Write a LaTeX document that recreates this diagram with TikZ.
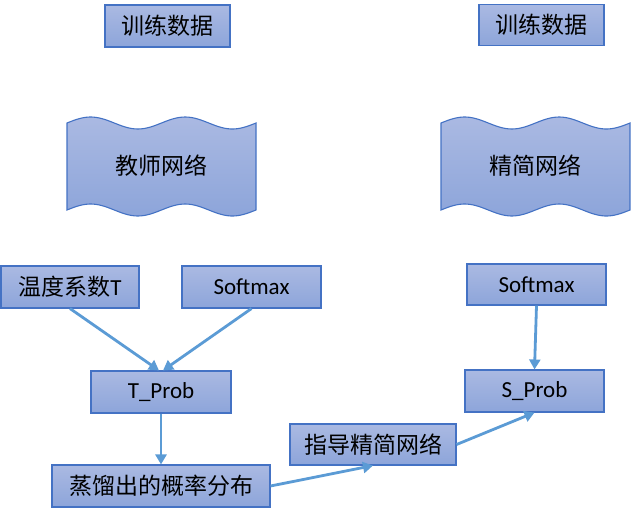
\documentclass[tikz,border=0pt]{standalone}
\usepackage{fontspec}
\setmainfont{Carlito}
\newfontfamily\cjk{Noto Sans CJK SC}
\usepackage{xcolor}
\usepackage{tikz}
\usetikzlibrary{positioning,arrows.meta}

\definecolor{boxline}{HTML}{4472C4}
\definecolor{boxtop}{HTML}{AAB9E2}
\definecolor{boxbot}{HTML}{8DA5DA}
\definecolor{arrowblue}{HTML}{5B9BD5}

\tikzset{
  box/.style={draw=boxline, line width=1.1pt, top color=boxtop, bottom color=boxbot,
    minimum height=42, inner sep=0pt, font=\fontsize{23}{27}\selectfont},
  wave/.style={draw=boxline, line width=1.1pt, top color=boxtop, bottom color=boxbot},
  wavetext/.style={inner sep=0pt, font=\fontsize{23}{27}\selectfont},
  arr/.style={-{Triangle[length=10pt,width=11pt]}, draw=arrowblue, line width=2.8pt}
}

\newcommand{\netwave}{%
  \draw[wave] plot[domain=67:256, samples=60, smooth] (\x, {123-6*sin((\x-67)*3.8095)})
    -- plot[domain=256:67, samples=60, smooth] (\x, {210-6*sin((\x-67)*3.8095)}) -- cycle;}

\begin{document}
\begin{tikzpicture}[x=1pt,y=-1pt]
            \useasboundingbox (0,0) rectangle (631,514);
            \node[box, minimum width=125] (data1) at (167.5,26) {\cjk 训练数据};
            \node[box, minimum width=125, minimum height=41] (data2) at (541.5,25) {\cjk 训练数据};
            \netwave
            \begin{scope}[xshift=374]
            \netwave
            \end{scope}
            \node[wavetext] (teacher) at (161.5,166) {\cjk 教师网络};
            \node[wavetext] (student) at (535.5,166) {\cjk 精简网络};
            \node[box, minimum width=138] (temp) at (70,287) {{\cjk 温度系数}T};
            \node[box, minimum width=139] (soft1) at (251.5,287) {Softmax};
            \node[box, minimum width=140] (tprob) at (161,392) {T\_Prob};
            \node[box, minimum width=218] (distil) at (161,486) {\cjk 蒸馏出的概率分布};
            \node[box, minimum width=166, minimum height=41] (guide) at (373,444.5) {\cjk 指导精简网络};
            \node[box, minimum width=139, minimum height=41] (soft2) at (536.5,284.5) {Softmax};
            \node[box, minimum width=139] (sprob) at (534.5,391) {S\_Prob};
            \draw[arr] (temp.south) -- ([xshift=-2]tprob.north);
            \draw[arr] (soft1.south) -- ([xshift=2]tprob.north);
            \draw[arr] (tprob.south) -- (distil.north);
            \draw[arr] (distil.east) -- (guide.south);
            \draw[arr] (guide.east) -- (sprob.south);
            \draw[arr] (soft2.south) -- (sprob.north);
\end{tikzpicture}
\end{document}
